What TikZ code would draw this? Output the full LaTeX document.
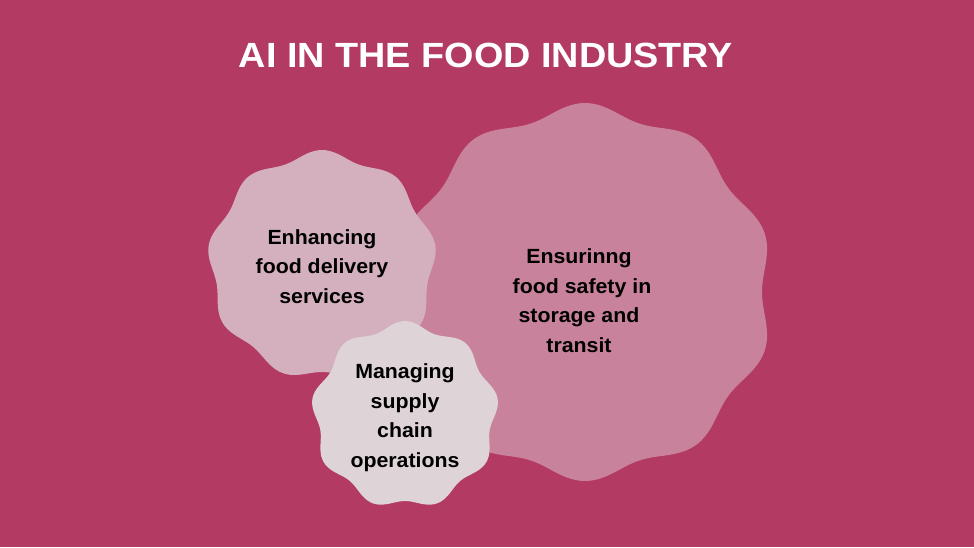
\documentclass[tikz,border=0pt]{standalone}
\usepackage{fontspec}
\setmainfont{Liberation Sans}
\newfontfamily\titlefont[FakeStretch=1.08]{Liberation Sans}
\newfontfamily\bodyfont[FakeStretch=1.04]{Liberation Sans}
\definecolor{bg}{HTML}{B23A63}
\definecolor{blobL}{HTML}{C9829B}
\definecolor{blobM}{HTML}{D4AFBD}
\definecolor{blobS}{HTML}{DED3D7}
\tikzset{
  lbl/.style={font=\bodyfont\bfseries\fontsize{20.5}{29.5}\selectfont, text=black, align=center, anchor=base, inner sep=0pt},
}
\begin{document}
\begin{tikzpicture}[x=1pt,y=-1pt]
\fill[bg] (0,0) rectangle (974,547);
\useasboundingbox (0,0) rectangle (974,547);
\node[font=\titlefont\bfseries\fontsize{35}{40}\selectfont, text=white, anchor=base, inner sep=0pt] (title) at (486,67) {AI IN THE FOOD INDUSTRY};
% large blob
\fill[blobL] plot[smooth cycle, domain=0:358, samples=180, variable=\t]
  ({585+(183+6*cos(10*(\t-90)))*cos(\t)}, {292-(183+6*cos(10*(\t-90)))*sin(\t)});
% medium blob
\fill[blobM] plot[smooth cycle, domain=0:358, samples=180, variable=\t]
  ({322+(111+4*cos(9*(\t-90)))*cos(\t)}, {265-(111+4*cos(9*(\t-90)))*sin(\t)});
% small blob
\fill[blobS] plot[smooth cycle, domain=0:358, samples=180, variable=\t]
  ({405+(90+4*cos(9*(\t-90)))*cos(\t)}, {415-(90+4*cos(9*(\t-90)))*sin(\t)});
\node[lbl] (safety) at (579,352) {Ensurinng\hspace{6pt}\\ \hspace{6pt}food safety in\\ storage and\\ transit};
\node[lbl] (delivery) at (322,303) {Enhancing\\ food delivery\\ services};
\node[lbl] (supply) at (405,467) {Managing\\ supply\\ chain\\ operations};
\end{tikzpicture}
\end{document}
